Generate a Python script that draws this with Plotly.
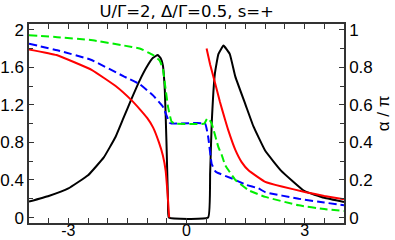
import plotly.graph_objects as go

# Black (solid)
x_black = [-4, -3.5, -3, -2.5, -2.1, -1.8, -1.6, -1.4, -1.2, -1.0, -0.85, -0.73, -0.65, -0.6,
           -0.55, -0.51, -0.47, -0.45, 0.55, 0.6, 0.64, 0.72, 0.81, 0.94, 1.1, 1.24, 1.5,
           1.7, 2.0, 2.4, 3.0, 3.5, 4.0]
y_black = [0.17, 0.23, 0.31, 0.45, 0.64, 0.86, 1.06, 1.26, 1.45, 1.61, 1.70, 1.73, 1.69, 1.62,
           1.35, 0.82, 0.18, 0.0, 0.0, 0.47, 1.0, 1.53, 1.74, 1.83, 1.74, 1.5, 1.2,
           0.97, 0.71, 0.5, 0.28, 0.21, 0.165]

# Red (solid), two branches
x_red_l = [-4, -3.3, -2.4, -1.8, -1.4, -1.2, -1.0, -0.85, -0.7, -0.6, -0.53, -0.48, -0.44]
y_red_l = [1.79, 1.73, 1.57, 1.40, 1.25, 1.16, 1.06, 0.96, 0.80, 0.66, 0.5, 0.25, 0.0]
x_red_r = [0.51, 0.6, 0.72, 0.85, 0.98, 1.06, 1.24, 1.4, 1.58, 2.0, 2.42, 3.03, 3.5, 4.0]
y_red_r = [1.8, 1.63, 1.44, 1.23, 1.04, 0.93, 0.72, 0.59, 0.5, 0.38, 0.33, 0.27, 0.23, 0.195]

# Blue (dashed)
x_blue = [-4, -3.28, -2.43, -1.58, -1.19, -0.85, -0.6, -0.43, -0.38, 0.47, 0.55, 0.64, 0.72,
          0.77, 1.19, 1.5, 1.83, 2.0, 2.85, 3.5, 4.0]
y_blue = [1.85, 1.78, 1.68, 1.5, 1.42, 1.3, 1.18, 1.01, 1.0, 1.0, 0.86, 0.57, 0.5,
          0.48, 0.41, 0.35, 0.31, 0.27, 0.2, 0.16, 0.13]

# Green (dashed)
x_green = [-4, -3.28, -2.43, -1.58, -1.19, -0.85, -0.68, -0.6, -0.55, -0.47, -0.38, -0.3,
           0.45, 0.52, 0.57, 0.64, 0.81, 0.9, 0.98, 1.24, 1.58, 2.0, 2.85, 3.5, 4.0]
y_green = [1.94, 1.92, 1.89, 1.83, 1.8, 1.73, 1.67, 1.58, 1.43, 1.18, 1.02, 1.0,
           1.0, 1.05, 1.05, 1.0, 0.75, 0.66, 0.56, 0.4, 0.29, 0.22, 0.13, 0.09, 0.07]

x_ticks = [-3, 0, 3]
y_ticks = [0, 0.4, 0.8, 1.2, 1.6, 2]
y2_ticks = [0, 0.2, 0.4, 0.6, 0.8, 1]

title_text = "U/Γ=2, Δ/Γ=0.5, s=+"
y2_title = "α / π"

line_shape = dict(shape="spline", smoothing=0.3)

fig = go.Figure()
fig.add_trace(go.Scatter(x=x_black, y=y_black, mode="lines",
                         line=dict(color="black", width=2, **line_shape)))
fig.add_trace(go.Scatter(x=x_red_l, y=y_red_l, mode="lines",
                         line=dict(color="#ff0000", width=2, **line_shape)))
fig.add_trace(go.Scatter(x=x_red_r, y=y_red_r, mode="lines",
                         line=dict(color="#ff0000", width=2, **line_shape)))
fig.add_trace(go.Scatter(x=x_blue, y=y_blue, mode="lines",
                         line=dict(color="#0000ff", width=2, dash="8px,4px", **line_shape)))
fig.add_trace(go.Scatter(x=x_green, y=y_green, mode="lines",
                         line=dict(color="#00ee00", width=2, dash="8px,4px", **line_shape)))
# invisible trace to activate the right axis
fig.add_trace(go.Scatter(x=[-4], y=[0], yaxis="y2", mode="markers",
                         marker=dict(opacity=0), hoverinfo="skip"))

axis_font = dict(family="Liberation Sans, Arial, sans-serif", size=17, color="black")
x_font = dict(family="Liberation Sans, Arial, sans-serif", size=16, color="black")

fig.update_layout(
    width=395, height=240,
    margin=dict(l=29, r=51, t=24, b=17, pad=0),
    paper_bgcolor="white", plot_bgcolor="white",
    showlegend=False,
    font=axis_font,
    title=dict(text=title_text, x=0.4725, xanchor="center", y=1 - 11 / 240, yanchor="middle",
               yref="container",
               font=dict(family="DejaVu Sans, sans-serif", size=16.5, color="black")),
    xaxis=dict(range=[-4, 4], tickvals=x_ticks, ticktext=[str(v) for v in x_ticks],
               ticks="inside", ticklen=5, tickwidth=1, tickcolor="#333",
               showline=True, linecolor="#333", linewidth=1.5, mirror="allticks",
               showgrid=False, zeroline=False, automargin=False, ticklabelstandoff=-8,
               minor=dict(dtick=0.5, tick0=0, ticks="inside", ticklen=4, tickcolor="#333"),
               tickfont=x_font),
    yaxis=dict(range=[-0.058, 2.06], tickvals=y_ticks,
               ticktext=["0", "0.4", "0.8", "1.2", "1.6", "2"],
               ticks="inside", ticklen=5, tickwidth=1, tickcolor="#333",
               showline=True, linecolor="#333", linewidth=1.5,
               showgrid=False, zeroline=False, automargin=False,
               minor=dict(dtick=0.2, tick0=0, ticks="inside", ticklen=4, tickcolor="#333"),
               tickfont=axis_font),
    yaxis2=dict(range=[-0.029, 1.03], overlaying="y", side="right", tickvals=y2_ticks,
                ticktext=["0", "0.2", "0.4", "0.6", "0.8", "1"],
                ticks="inside", ticklen=5, tickwidth=1, tickcolor="#333",
                showline=True, linecolor="#333", linewidth=1.5,
                showgrid=False, zeroline=False, automargin=False,
                minor=dict(dtick=0.1, tick0=0, ticks="inside", ticklen=4, tickcolor="#333"),
                tickfont=axis_font),
    annotations=[dict(text=y2_title, xref="paper", yref="paper", x=1.124, y=0.552,
                      textangle=-90, showarrow=False, xanchor="center", yanchor="middle",
                      font=axis_font)],
)

fig.write_html("out.html", config={"displayModeBar": False},
               post_script="document.body.style.margin='0';document.body.style.padding='0';")
